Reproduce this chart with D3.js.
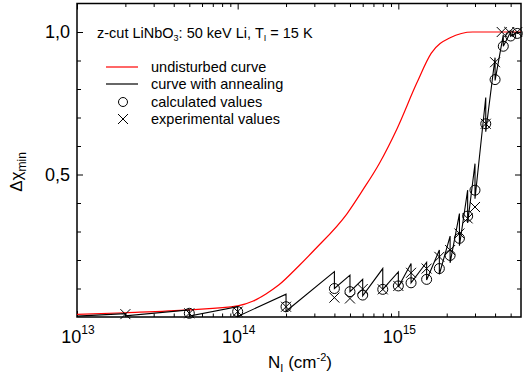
<!DOCTYPE html>
<html lang="en">
<head>
	<meta charset="UTF-8">
	<script src="https://cdn.jsdelivr.net/npm/d3@7"></script>
	<title>Delta chi min vs fluence</title>
</head>
<style>
	body {
		margin: 0;
		background: #fff;
		font-family: Arial, 'Liberation Sans', sans-serif;
	}

	.axis path,
	.axis line {
		stroke: #000;
	}

	.axis text {
		display: none;
	}
</style>
<body>
	<svg id="chart" width="523" height="387"></svg>
	<script>
		// undisturbed curve (red)
		const redN = [1e13, 2e13, 5e13, 1e14, 1.25e14, 1.5e14, 1.8e14, 2.4e14, 3e14, 4.8e14, 6e14, 7.6e14, 9.8e14, 1.3e15, 1.6e15, 2.1e15, 2.9e15, 5.8e15];
		const redV = [0.009, 0.015, 0.025, 0.039, 0.056, 0.081, 0.112, 0.179, 0.235, 0.363, 0.445, 0.538, 0.66, 0.82, 0.925, 0.98, 1.0, 1.0];

		// curve with annealing: rises to a peak at each dose, then drops
		const doses = [2e13, 5e13, 1e14, 2e14, 4e14, 5e14, 6e14, 8e14, 1e15, 1.2e15, 1.5e15, 1.8e15, 2.1e15, 2.4e15, 2.7e15, 3e15, 3.5e15, 4e15, 4.5e15, 5e15, 5.5e15];
		const peaks = [0.012, 0.025, 0.036, 0.08, 0.159, 0.147, 0.132, 0.17, 0.158, 0.188, 0.192, 0.235, 0.284, 0.363, 0.445, 0.538, 0.77, 0.91, 0.99, 1.0, 1.0];
		const bottoms = [0.004, 0.003, 0.002, 0.02, 0.1, 0.089, 0.074, 0.097, 0.105, 0.12, 0.13, 0.15, 0.19, 0.25, 0.33, 0.415, 0.65, 0.83, 0.95, 0.985, 0.995];

		// calculated values (circles)
		const calcN = [5e13, 1e14, 2e14, 4e14, 5e14, 6e14, 8e14, 1e15, 1.2e15, 1.5e15, 1.8e15, 2.1e15, 2.4e15, 2.7e15, 3e15, 3.5e15, 4e15, 4.5e15, 5e15, 5.5e15];
		const calcV = [0.013, 0.019, 0.036, 0.1, 0.089, 0.077, 0.097, 0.109, 0.12, 0.132, 0.17, 0.216, 0.276, 0.354, 0.445, 0.678, 0.833, 0.95, 0.986, 0.995];

		// experimental values (crosses)
		const expN = [2e13, 5e13, 1e14, 2e14, 4e14, 5e14, 6e14, 8e14, 1e15, 1.2e15, 1.5e15, 1.8e15, 2.1e15, 2.4e15, 2.7e15, 3e15, 3.5e15, 4e15, 4.4e15, 4.9e15, 5.5e15];
		const expV = [0.01, 0.013, 0.019, 0.036, 0.068, 0.065, 0.098, 0.097, 0.109, 0.155, 0.17, 0.211, 0.235, 0.293, 0.346, 0.386, 0.678, 0.894, 1.0, 1.0, 1.0];

		const xMajor = [1e13, 1e14, 1e15];
		const xExp = ['13', '14', '15'];
		const yMajor = [0.5, 1.0];
		const yLabels = ['0,5', '1,0'];

		const mLeft = 77, mRight = 521, mTop = 3.5, mBottom = 317;
		const svg = d3.select('#chart');

		const x = d3.scaleLog().domain([1e13, 5.8e15]).range([mLeft, mRight]);
		const y = d3.scaleLinear().domain([0, 1.1]).range([mBottom, mTop]);

		const xMinor = x.ticks().filter(t => !xMajor.includes(t));
		const yMinor = d3.range(1, 11).map(i => i / 10).filter(t => !yMajor.includes(t));

		// axes, ticks pointing inward on all four sides
		function addAxis(gen, tr, vals, size) {
			svg.append('g').attr('class', 'axis')
				.attr('transform', tr)
				.call(gen.tickValues(vals).tickSize(size).tickSizeOuter(0))
				.call(g => g.select('.domain').remove());
		}
		addAxis(d3.axisBottom(x), `translate(0,${mBottom})`, xMinor, -3.5);
		addAxis(d3.axisBottom(x), `translate(0,${mBottom})`, xMajor, -6);
		addAxis(d3.axisTop(x), `translate(0,${mTop})`, xMinor, -3.5);
		addAxis(d3.axisTop(x), `translate(0,${mTop})`, xMajor, -6);
		addAxis(d3.axisLeft(y), `translate(${mLeft},0)`, yMinor, -4);
		addAxis(d3.axisLeft(y), `translate(${mLeft},0)`, yMajor, -6);
		addAxis(d3.axisRight(y), `translate(${mRight},0)`, yMinor, -4);
		addAxis(d3.axisRight(y), `translate(${mRight},0)`, yMajor, -6);

		svg.append('rect')
			.attr('x', mLeft).attr('y', mTop)
			.attr('width', mRight - mLeft).attr('height', mBottom - mTop)
			.attr('fill', 'none').attr('stroke', '#000').attr('stroke-width', 1.5);

		// tick labels
		xMajor.forEach((t, i) => {
			const tx = svg.append('text')
				.attr('x', x(t) + 1).attr('y', 343)
				.attr('text-anchor', 'middle')
				.attr('font-size', 18);
			tx.append('tspan').text('10');
			tx.append('tspan').attr('font-size', 12).attr('dy', -9).text(xExp[i]);
		});
		yMajor.forEach((t, i) => {
			svg.append('text')
				.attr('x', 70).attr('y', y(t))
				.attr('dy', '0.36em')
				.attr('text-anchor', 'end')
				.attr('font-size', 18)
				.text(yLabels[i]);
		});

		// axis titles
		const xt = svg.append('text')
			.attr('x', 300).attr('y', 368)
			.attr('text-anchor', 'middle')
			.attr('font-size', 17);
		xt.append('tspan').text('N');
		xt.append('tspan').attr('font-size', 11).attr('dy', 4).text('I');
		xt.append('tspan').attr('dy', -4).text(' (cm');
		xt.append('tspan').attr('font-size', 11).attr('dy', -7).text('-2');
		xt.append('tspan').attr('dy', 7).text(')');

		const yt = svg.append('text')
			.attr('transform', 'translate(22,172) rotate(-90)')
			.attr('text-anchor', 'middle')
			.attr('font-size', 17);
		yt.append('tspan').text('Δχ');
		yt.append('tspan').attr('font-size', 12).attr('dy', 4).text('min');

		// curves
		const redData = redN.map((n, i) => [n, redV[i]]);
		svg.append('path')
			.datum(redData)
			.attr('fill', 'none')
			.attr('stroke', '#ff0000')
			.attr('stroke-width', 1.2)
			.attr('d', d3.line().x(d => x(d[0])).y(d => y(d[1])).curve(d3.curveMonotoneX));

		const annData = [[1e13, 0.003]];
		doses.forEach((n, i) => {
			annData.push([n, peaks[i]]);
			annData.push([n, bottoms[i]]);
		});
		annData.push([5.8e15, 1.0]);
		svg.append('path')
			.datum(annData)
			.attr('fill', 'none')
			.attr('stroke', '#000')
			.attr('stroke-width', 1.1)
			.attr('d', d3.line().x(d => x(d[0])).y(d => y(d[1])));

		// markers
		svg.selectAll('circle.calc')
			.data(calcN.map((n, i) => [n, calcV[i]]))
			.enter().append('circle')
			.attr('class', 'calc')
			.attr('cx', d => x(d[0])).attr('cy', d => y(d[1]))
			.attr('r', 5)
			.attr('fill', 'none').attr('stroke', '#000').attr('stroke-width', 1);

		svg.selectAll('path.exp')
			.data(expN.map((n, i) => [n, expV[i]]))
			.enter().append('path')
			.attr('class', 'exp')
			.attr('transform', d => `translate(${x(d[0])},${y(d[1])})`)
			.attr('d', 'M-5,-5L5,5M-5,5L5,-5')
			.attr('fill', 'none').attr('stroke', '#000').attr('stroke-width', 1);

		// legend
		const title = svg.append('text')
			.attr('x', 97).attr('y', 38)
			.attr('font-size', 14.5);
		title.append('tspan').text('z-cut LiNbO');
		title.append('tspan').attr('font-size', 9).attr('dy', 3).text('3');
		title.append('tspan').attr('dy', -3).text(': 50 keV Li, T');
		title.append('tspan').attr('font-size', 9).attr('dy', 3).text('I');
		title.append('tspan').attr('dy', -3).text(' = 15 K');

		const lg = svg.append('g');
		const rows = [67, 84, 102, 119];
		lg.append('line').attr('x1', 106).attr('x2', 138).attr('y1', rows[0]).attr('y2', rows[0])
			.attr('stroke', '#ff0000').attr('stroke-width', 1.2);
		lg.append('line').attr('x1', 106).attr('x2', 138).attr('y1', rows[1]).attr('y2', rows[1])
			.attr('stroke', '#000').attr('stroke-width', 1.2);
		lg.append('circle').attr('cx', 123).attr('cy', rows[2]).attr('r', 4.5)
			.attr('fill', 'none').attr('stroke', '#000');
		lg.append('path').attr('transform', `translate(123,${rows[3]})`)
			.attr('d', 'M-5,-5L5,5M-5,5L5,-5').attr('stroke', '#000');
		['undisturbed curve', 'curve with annealing', 'calculated values', 'experimental values']
			.forEach((t, i) => {
				lg.append('text').attr('x', 151).attr('y', rows[i]).attr('dy', '0.35em')
					.attr('font-size', 14.5).text(t);
			});
	</script>
</body>
</html>
